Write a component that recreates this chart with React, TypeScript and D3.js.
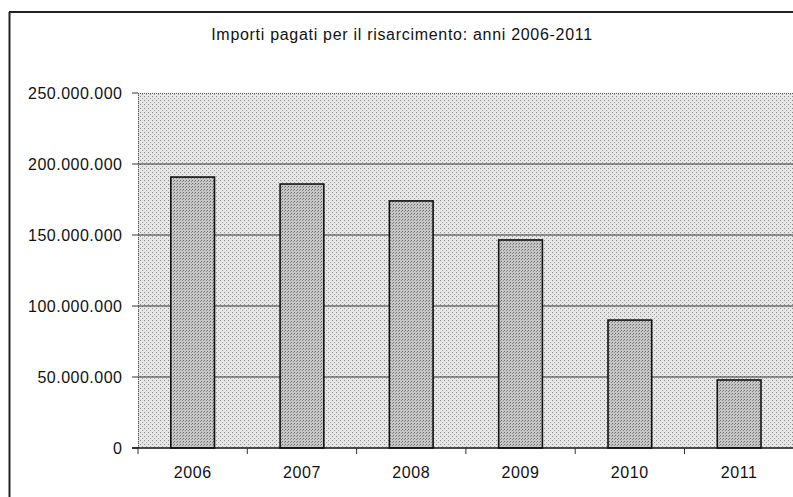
import React from "react";
import * as d3 from "d3";

const years = ["2006", "2007", "2008", "2009", "2010", "2011"];
const importi = [190800000, 185900000, 174000000, 146500000, 90100000, 47900000];
const yTicks = [0, 50000000, 100000000, 150000000, 200000000, 250000000];
const title = "Importi pagati per il risarcimento: anni 2006-2011";

const W = 793;
const H = 497;
const M = { left: 138, right: 793.8, top: 93, bottom: 448 };

const fmt = (v: number) => {
  if (v === 0) return "0";
  return d3.format(",")(v).replace(/,/g, ".");
};

export default function App() {
  const x = d3.scaleBand<string>().domain(years).range([M.left, M.right]).paddingInner(0.6).paddingOuter(0.3);
  const xb = d3.scaleBand<string>().domain(years).range([M.left, M.right]).padding(0);
  const y = d3.scaleLinear().domain([0, 250000000]).range([M.bottom, M.top]);
  const font = "'Liberation Sans', Arial, Helvetica, sans-serif";

  return (
    <svg width={W} height={H} style={{ position: "absolute", left: 0, top: 0, background: "#fff" }}>
      <defs>
        <pattern id="bgdots" width="4" height="4" patternUnits="userSpaceOnUse">
          <rect width="4" height="4" fill="#e6e6e6" />
          <rect x="0" y="0" width="1" height="1" fill="#8a8a8a" />
          <rect x="2" y="2" width="1" height="1" fill="#a0a0a0" />
        </pattern>
        <pattern id="bardots" width="3" height="3" patternUnits="userSpaceOnUse">
          <rect width="3" height="3" fill="#c6c6c6" />
          <rect x="0" y="0" width="1" height="1" fill="#6e6e6e" />
          <rect x="2" y="1" width="1" height="1" fill="#8c8c8c" />
        </pattern>
      </defs>
      {/* outer frame */}
      <line x1={9.5} y1={12} x2={9.5} y2={H} stroke="#222" strokeWidth={2} />
      <line x1={9} y1={12} x2={W} y2={12} stroke="#222" strokeWidth={2} />

      <text x={402} y={40} textAnchor="middle" fontFamily={font} fontSize={16} letterSpacing={0.7} fill="#111">
        {title}
      </text>

      {/* plot background */}
      <rect x={M.left} y={M.top} width={M.right - M.left} height={M.bottom - M.top} fill="url(#bgdots)" />
      <line x1={M.left} x2={M.right} y1={M.top + 0.5} y2={M.top + 0.5} stroke="#555" strokeWidth={1} strokeDasharray="1 1" />
      <line x1={M.left + 0.5} x2={M.left + 0.5} y1={M.top} y2={M.bottom} stroke="#555" strokeWidth={1} strokeDasharray="1 1" />

      {/* gridlines */}
      {yTicks.filter((t) => t > 0 && t < 250000000).map((t) => (
        <line key={t} x1={M.left} x2={M.right} y1={y(t)} y2={y(t)} stroke="#333" strokeWidth={1} />
      ))}

      {/* y ticks and labels */}
      {yTicks.map((t) => (
        <g key={"yt" + t}>
          <line x1={132} x2={M.left} y1={y(t)} y2={y(t)} stroke="#333" strokeWidth={1} />
          <text x={122.5} y={y(t)} dy="0.36em" textAnchor="end" fontFamily={font} fontSize={16} letterSpacing={0.5} fill="#111">
            {fmt(t)}
          </text>
        </g>
      ))}

      {/* bars */}
      {years.map((yr, i) => (
        <rect
          key={yr}
          x={x(yr)}
          y={y(importi[i])}
          width={x.bandwidth()}
          height={M.bottom - y(importi[i])}
          fill="url(#bardots)"
          stroke="#111"
          strokeWidth={1.6}
        />
      ))}

      {/* x axis */}
      <line x1={M.left - 6} x2={M.right} y1={M.bottom} y2={M.bottom} stroke="#111" strokeWidth={1.5} />
      {years.map((yr) => (
        <line key={"xt" + yr} x1={xb(yr)} x2={xb(yr)} y1={M.bottom} y2={M.bottom + 6} stroke="#333" strokeWidth={1} />
      ))}
      {years.map((yr) => (
        <text key={"xl" + yr} x={(xb(yr) as number) + xb.bandwidth() / 2} y={478} textAnchor="middle" fontFamily={font} fontSize={16} letterSpacing={0.6} fill="#111">
          {yr}
        </text>
      ))}
    </svg>
  );
}
